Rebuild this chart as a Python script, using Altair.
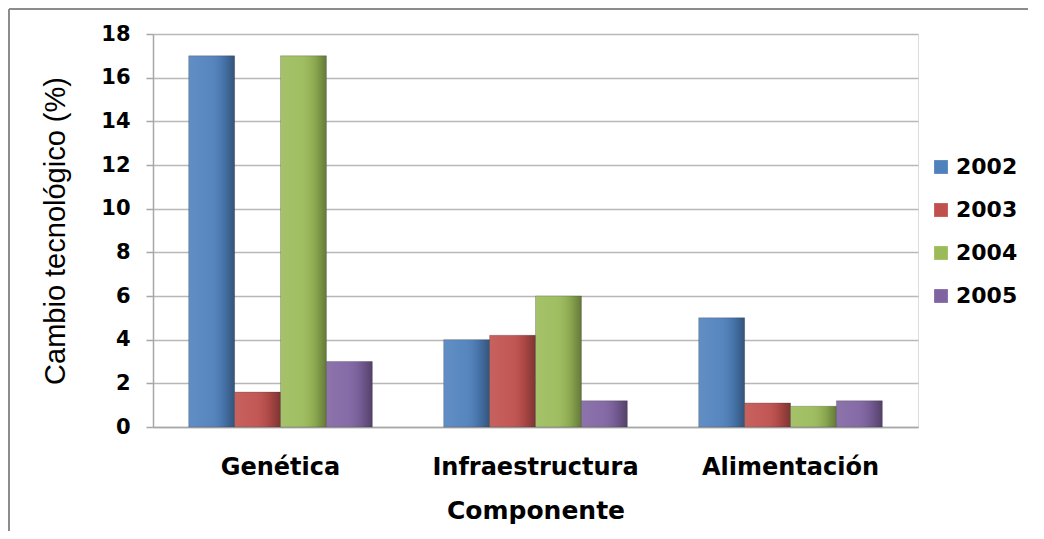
import altair as alt
import pandas as pd

componentes = ["Genética", "Infraestructura", "Alimentación"]
anios = ["2002", "2003", "2004", "2005"]
v2002 = [17.0, 4.0, 5.0]
v2003 = [1.6, 4.2, 1.1]
v2004 = [17.0, 6.0, 0.95]
v2005 = [3.0, 1.2, 1.2]
colores = ["#4F81BD", "#C0504D", "#9BBB59", "#8064A2"]
y_ticks = [0, 2, 4, 6, 8, 10, 12, 14, 16, 18]

rows = []
for anio, serie in zip(anios, [v2002, v2003, v2004, v2005]):
    for comp, val in zip(componentes, serie):
        rows.append({"Componente": comp, "Año": anio, "Valor": val})
df = pd.DataFrame(rows)

FONT = "DejaVu Sans"
W, H = 765, 393

x_enc = alt.X(
    "Componente:N",
    sort=componentes,
    scale=alt.Scale(paddingInner=0.28, paddingOuter=0.14),
    axis=alt.Axis(
        title="Componente",
        labelAngle=0,
        labelFont=FONT,
        labelFontWeight="bold",
        labelFontSize=24,
        labelColor="#000000",
        labelPadding=28,
        labelLimit=400,
        ticks=False,
        domainColor="#a6a6a6",
        domainWidth=1.5,
        titleFont=FONT,
        titleFontWeight="bold",
        titleFontSize=25,
        titleColor="#000000",
        titleY=83,
        titleBaseline="middle",
    ),
)
y_enc = alt.Y(
    "Valor:Q",
    scale=alt.Scale(domain=[0, 18], nice=False),
    axis=alt.Axis(
        title="Cambio tecnológico (%)",
        values=y_ticks,
        labelFont=FONT,
        labelFontWeight="bold",
        labelFontSize=21,
        labelColor="#000000",
        labelPadding=16,
        tickSize=7,
        tickColor="#a6a6a6",
        tickWidth=1.5,
        domainColor="#a6a6a6",
        domainWidth=1.5,
        gridColor="#b8b8b8",
        gridWidth=1.5,
        titleFont="Liberation Sans",
        titleFontWeight="normal",
        titleFontSize=29,
        titleColor="#000000",
        titleX=-98,
        titleY=H / 2,
        titleAngle=-90,
        titleAlign="center",
        titleBaseline="middle",
    ),
)
xoff = alt.XOffset("Año:N", sort=anios, scale=alt.Scale(paddingInner=0, paddingOuter=0))

base = alt.Chart(df)

bars = base.mark_bar(stroke="#3a3a3a", strokeOpacity=0.35, strokeWidth=0.8).encode(
    x=x_enc,
    xOffset=xoff,
    y=y_enc,
    color=alt.Color(
        "Año:N",
        sort=anios,
        scale=alt.Scale(domain=anios, range=colores),
        legend=alt.Legend(
            title=None,
            orient="none",
            legendX=777,
            legendY=122,
            direction="vertical",
            symbolType="square",
            symbolSize=190,
            symbolStrokeWidth=0,
            labelFont=FONT,
            labelFontWeight="bold",
            labelFontSize=22,
            labelColor="#000000",
            rowPadding=21,
            labelOffset=4,
        ),
    ),
)

shade = base.mark_bar(
    fill=alt.Gradient(
        gradient="linear",
        x1=0, x2=1, y1=0, y2=0,
        stops=[
            alt.GradientStop(color="rgba(255,255,255,0.10)", offset=0),
            alt.GradientStop(color="rgba(255,255,255,0.05)", offset=0.45),
            alt.GradientStop(color="rgba(0,0,0,0.10)", offset=0.75),
            alt.GradientStop(color="rgba(0,0,0,0.35)", offset=1),
        ],
    )
).encode(x=alt.X("Componente:N", sort=componentes), xOffset=xoff, y="Valor:Q")

frame_top = alt.Chart(pd.DataFrame({"k": [0]})).mark_rule(
    color="#8c8c8c", strokeWidth=2, clip=False
).encode(x=alt.value(-144), x2=alt.value(1036 - 153), y=alt.value(-25))
frame_left = alt.Chart(pd.DataFrame({"k": [0]})).mark_rule(
    color="#8c8c8c", strokeWidth=2, clip=False
).encode(x=alt.value(-144), y=alt.value(-25), y2=alt.value(539 - 34))

chart = (
    alt.layer(bars, shade, frame_top, frame_left)
    .properties(
        width=W,
        height=H,
        autosize=alt.AutoSizeParams(type="none"),
        padding={"left": 145, "top": 26, "right": 110, "bottom": 104},
    )
    .configure_view(stroke=None)
    .configure(background="#ffffff")
)

chart.save("out.html", embed_options={"renderer": "svg", "actions": False})
